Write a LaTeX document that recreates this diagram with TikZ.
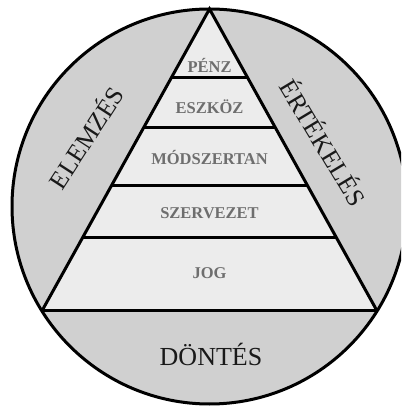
\documentclass[tikz,border=0pt]{standalone}
\usepackage{fontspec}
\setmainfont{Liberation Serif}
\usetikzlibrary{calc}
\definecolor{outergray}{HTML}{D0D0D0}
\definecolor{innergray}{HTML}{ECECEC}
\definecolor{labelgray}{HTML}{6E6E6E}
\tikzset{
  edge/.style={line width=3pt, black},
  layerlabel/.style={font=\bfseries\fontsize{16.5}{18}\selectfont, text=labelgray, inner sep=0pt},
  sidelabel/.style={font=\fontsize{25.5}{27}\selectfont, text=black!90, inner sep=0pt},
}
\begin{document}
\begin{tikzpicture}[x=1pt,y=1pt]
\useasboundingbox (0,0) rectangle (401,406);
\clip (0,0) rectangle (401,406);
\coordinate (c) at (209.5,199.5);
\def\R{197.5}
\coordinate (apex) at (209.5,397);
\coordinate (L) at ($(c)+(211.94:\R)$);
\coordinate (Rt) at ($(c)+(-31.94:\R)$);
% fills
\fill[outergray] (c) circle (\R);
\fill[innergray] (apex) -- (L) -- (Rt) -- cycle;
% layer lines
\foreach \t/\n in {0.2285/a,0.394/b,0.583/d,0.758/e}{
  \coordinate (l\n) at ($(apex)!\t!(L)$);
  \coordinate (r\n) at ($(apex)!\t!(Rt)$);
  \draw[edge] (l\n) -- (r\n);
}
% base chord
\draw[edge] (L) -- (Rt);
\draw[edge, line join=miter] (L) -- (apex) -- (Rt);
\draw[edge] (c) circle (\R);
% labels
\node[layerlabel] (penz) at (209.5,341) {PÉNZ};
\node[layerlabel] (eszkoz) at (209.5,299) {ESZKÖZ};
\node[layerlabel] (modsz) at (209.5,248) {MÓDSZERTAN};
\node[layerlabel] (szerv) at (209.5,193) {SZERVEZET};
\node[layerlabel] (jog) at (209.5,133) {JOG};
\node[sidelabel, rotate=57] (elem) at (85,269) {ELEMZÉS};
\node[sidelabel, rotate=-59] (ertek) at (324.5,264) {ÉRTÉKELÉS};
\node[font=\fontsize{26}{28}\selectfont, inner sep=0pt, text=black!90] (dont) at (211,52) {DÖNTÉS};
\end{tikzpicture}
\end{document}
